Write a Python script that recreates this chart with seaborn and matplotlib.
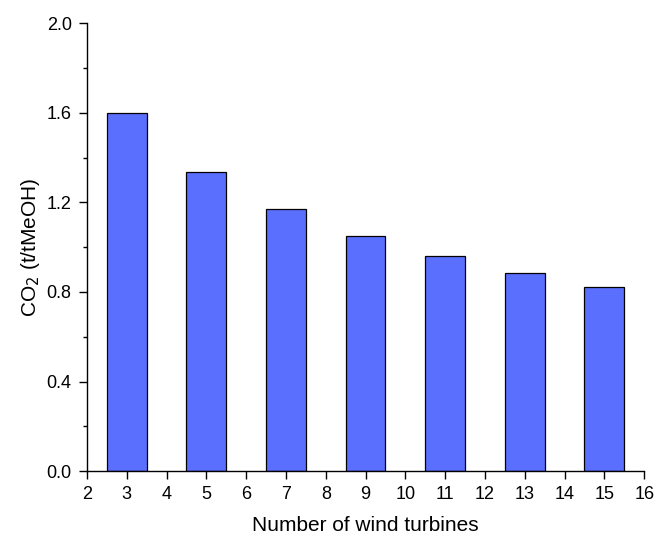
import matplotlib
matplotlib.use("Agg")
import matplotlib.pyplot as plt
import seaborn as sns
import pandas as pd
from matplotlib.ticker import MultipleLocator

turbines = [3, 5, 7, 9, 11, 13, 15]
co2 = [1.60, 1.335, 1.17, 1.05, 0.96, 0.885, 0.822]

sns.set_style("ticks")
plt.rcParams["font.family"] = ["Liberation Sans", "DejaVu Sans"]
plt.rcParams["text.color"] = "black"
plt.rcParams["axes.labelcolor"] = "black"
plt.rcParams["xtick.color"] = "black"
plt.rcParams["ytick.color"] = "black"

df = pd.DataFrame({"turbines": turbines, "co2": co2})

fig = plt.figure(figsize=(6.56, 5.39), dpi=100)
ax = fig.add_axes([0.1326, 0.126, 0.8494, 0.831])

sns.barplot(data=df, x="turbines", y="co2", native_scale=True, width=0.5,
            color="#5b6fff", saturation=1, edgecolor="black", linewidth=0.9,
            ax=ax)

ax.set_xlim(2, 16)
ax.set_ylim(0, 2.0)
ax.xaxis.set_major_locator(MultipleLocator(1))
ax.yaxis.set_major_locator(MultipleLocator(0.4))
ax.yaxis.set_minor_locator(MultipleLocator(0.2))
ax.yaxis.set_major_formatter(matplotlib.ticker.FormatStrFormatter("%.1f"))
ax.tick_params(axis="both", which="major", direction="out", length=6,
               width=1, labelsize=13, pad=5)
ax.tick_params(axis="y", which="minor", direction="out", length=3, width=1)

sns.despine(ax=ax)
for s in ("left", "bottom"):
    ax.spines[s].set_linewidth(1)
    ax.spines[s].set_color("black")

ax.set_xlabel("Number of wind turbines", fontsize=15, labelpad=9)
ax.set_ylabel("CO$_2$ (t/tMeOH)", fontsize=15, labelpad=3)

fig.savefig("out.png", dpi=100)
